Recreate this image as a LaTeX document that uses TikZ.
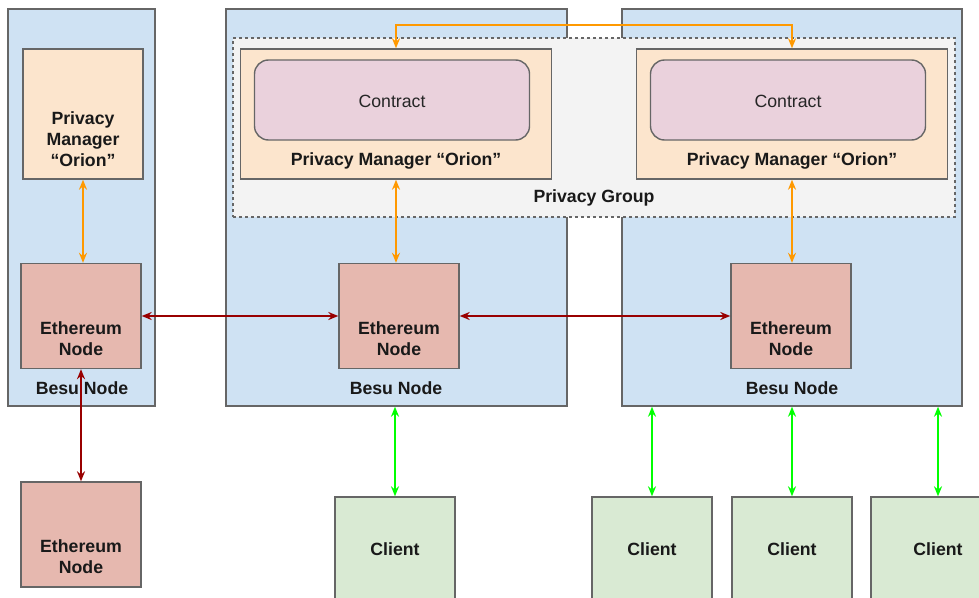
\documentclass[tikz,border=0pt]{standalone}
\usepackage{fontspec}
\setmainfont{Liberation Sans}
\usepackage{xcolor}
\usetikzlibrary{positioning, calc, arrows.meta}
\definecolor{besublue}{HTML}{CFE2F3}
\definecolor{pmorange}{HTML}{FCE5CD}
\definecolor{contractpink}{HTML}{EAD1DC}
\definecolor{ethred}{HTML}{E6B8AF}
\definecolor{clientgreen}{HTML}{D9EAD3}
\definecolor{groupgray}{HTML}{F3F3F3}
\definecolor{edgegray}{HTML}{666666}
\definecolor{linkorange}{HTML}{FF9900}
\definecolor{linkred}{HTML}{990000}
\definecolor{linkgreen}{HTML}{00FF00}

\begin{document}
\begin{tikzpicture}[x=1pt,y=-1pt,
    box/.style={draw=edgegray, line width=1.4pt, inner sep=0pt},
    besu/.style={box, fill=besublue},
    pm/.style={box, fill=pmorange},
    contract/.style={box, fill=contractpink, rounded corners=14pt},
    eth/.style={box, fill=ethred, minimum width=120, minimum height=105},
    client/.style={box, fill=clientgreen, minimum width=120, minimum height=120},
    txt/.style={font=\fontsize{17.7}{20.7}\selectfont\bfseries, align=center, text=black!90},
    plaintxt/.style={font=\fontsize{17.7}{20.7}\selectfont, text=black!85},
    link/.style={line width=2pt, {Stealth[length=10pt,width=8pt]}-{Stealth[length=10pt,width=8pt]}}]
      \useasboundingbox (0,0) rectangle (979,597);
      \clip (0,0) rectangle (979,597);
      \fill[white] (0,0) rectangle (979,597);
      % Besu nodes
      \node[besu, minimum width=147, minimum height=397] (besuA) at (81.5,207.5) {};
      \node[besu, minimum width=341, minimum height=397] (besuB) at (396.5,207.5) {};
      \node[besu, minimum width=340, minimum height=397] (besuC) at (792,207.5) {};
      \node[box, line width=1.1pt, fill=groupgray, dashed, minimum width=722, minimum height=179] (group) at (594,127.5) {};
      % privacy managers
      \node[pm, minimum width=120, minimum height=130] (pmA) at (83,114) {};
      \node[pm, minimum width=311, minimum height=130] (pmB) at (396,114) {};
      \node[pm, minimum width=311, minimum height=130] (pmC) at (792,114) {};
      \node[contract, minimum width=275, minimum height=80] (contractB) at (392,100) {};
      \node[contract, minimum width=275, minimum height=80] (contractC) at (788,100) {};
      % ethereum nodes
      \node[eth] (ethA) at (81,316) {};
      \node[eth] (ethB) at (399,316) {};
      \node[eth] (ethC) at (791,316) {};
      \node[eth] (ethD) at (81,534.5) {};
      % clients
      \node[client] (clientB) at (395,557) {};
      \node[client] (clientC) at (652,557) {};
      \node[client] (clientD) at (792,557) {};
      \node[client, minimum width=134] (clientE) at (938,557) {};
      % texts
      \node[txt] (pmAtxt) at (83,139) {Privacy\\Manager\\“Orion”};
      \node[txt] (pmBtxt) at (396,161) {Privacy Manager “Orion”};
      \node[txt] (pmCtxt) at (792,161) {Privacy Manager “Orion”};
      \node[plaintxt] (contractBtxt) at (392,101) {Contract};
      \node[plaintxt] (contractCtxt) at (788,101) {Contract};
      \node[txt] (grouptxt) at (594,198) {Privacy Group};
      \node[txt] (ethAtxt) at (81,339) {Ethereum\\Node};
      \node[txt] (ethBtxt) at (399,339) {Ethereum\\Node};
      \node[txt] (ethCtxt) at (791,339) {Ethereum\\Node};
      \node[txt] (ethDtxt) at (81,557) {Ethereum\\Node};
      \node[txt] (besuAtxt) at (82,388) {Besu Node};
      \node[txt] (besuBtxt) at (396,388) {Besu Node};
      \node[txt] (besuCtxt) at (792,388) {Besu Node};
      \foreach \c in {clientB,clientC,clientD,clientE}
        \node[txt] (\c txt) at ($(\c)+(0,-8)$) {Client};
      % links
      \coordinate (topline) at (0,25);
      \draw[link, linkorange] (pmA.south) -- (pmA.south |- ethA.north);
      \draw[link, linkorange] (pmB.south) -- (pmB.south |- ethB.north);
      \draw[link, linkorange] (pmC.south) -- (pmC.south |- ethC.north);
      \draw[link, linkorange] (pmB.north) -- (pmB.north |- topline) -- (pmC.north |- topline) -- (pmC.north);
      \draw[link, linkred] (ethA) -- (ethB);
      \draw[link, linkred] (ethB) -- (ethC);
      \draw[link, linkred] (ethA) -- (ethD);
      \foreach \c in {clientB,clientC,clientD,clientE}
        \draw[link, linkgreen] (\c.north |- besuB.south) -- (\c.north);
    \end{tikzpicture}
\end{document}
